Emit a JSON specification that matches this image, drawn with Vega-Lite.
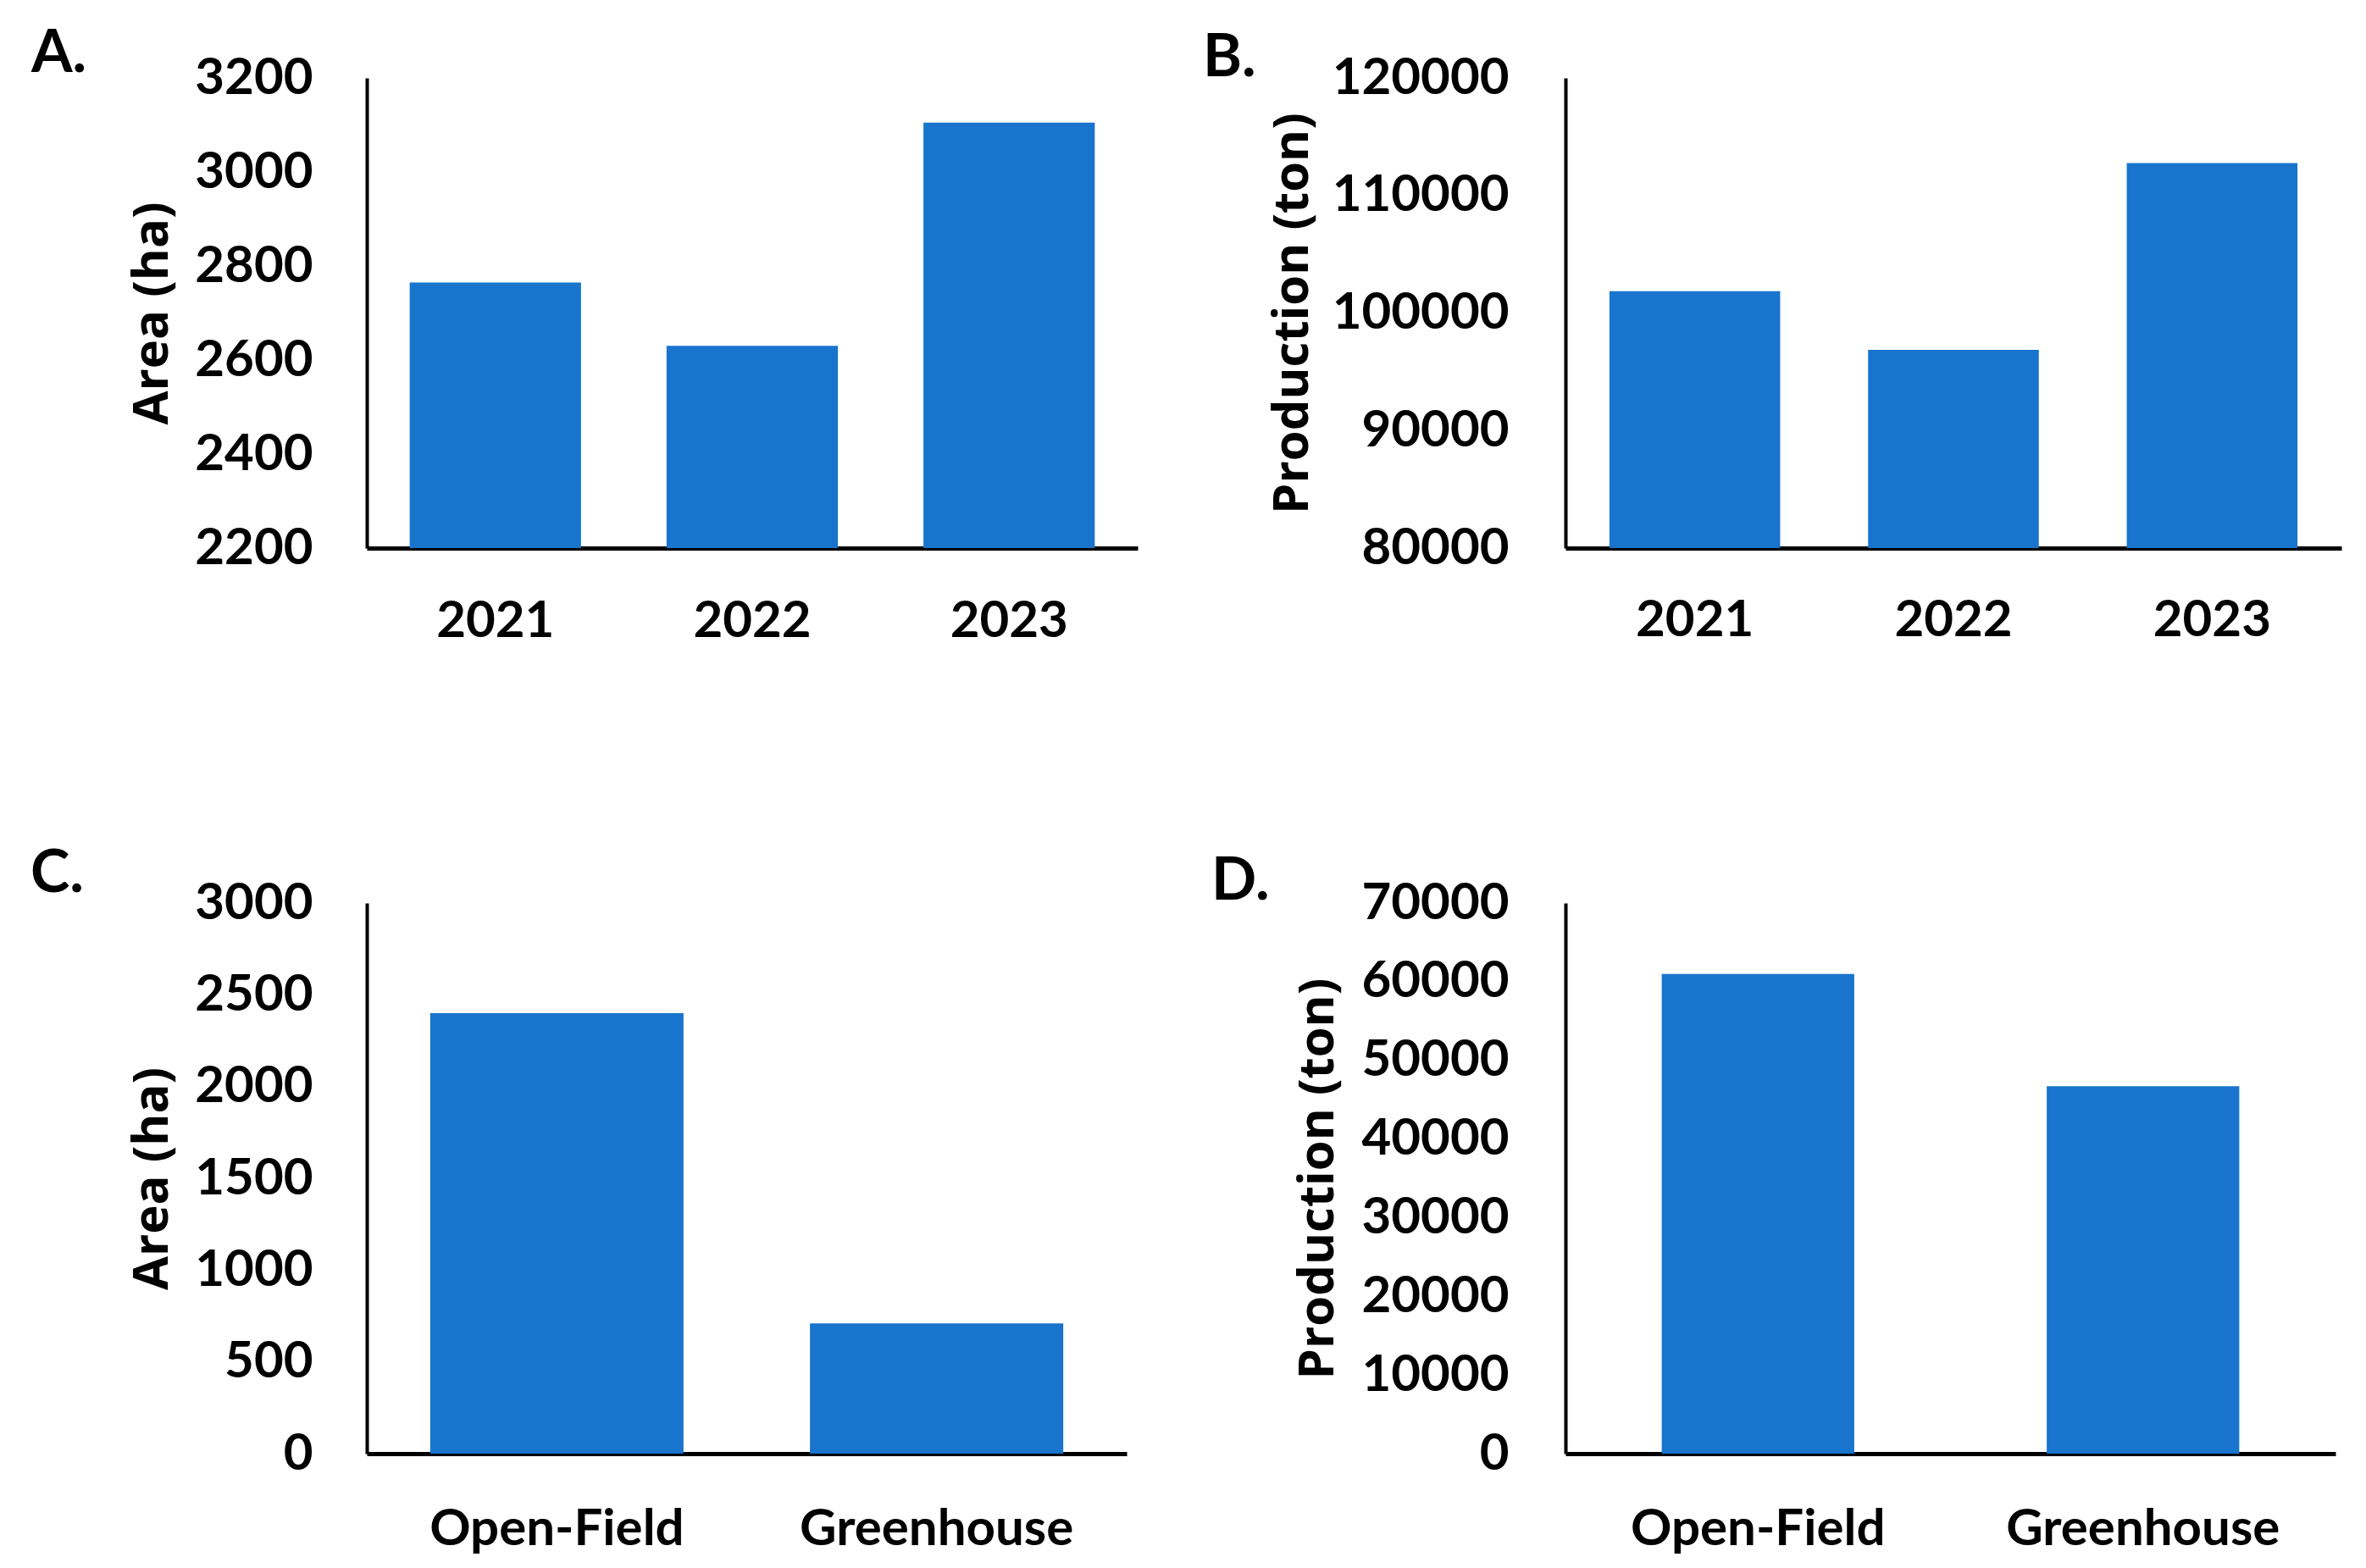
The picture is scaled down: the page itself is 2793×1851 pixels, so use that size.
{
  "$schema": "https://vega.github.io/schema/vega-lite/v6.json",
  "background": "white",
  "padding": {"left": 36, "top": 29, "right": 20, "bottom": 10},
  "columns": 2,
  "spacing": {"row": 419, "column": 505},
  "bounds": "flush",
  "config": {
    "view": {"stroke": null},
    "axis": {
      "labelFont": "Lato", "labelFontWeight": "bold", "labelFontSize": 60, "labelColor": "black", "labelLimit": 600,
      "titleFont": "Open Sans", "titleFontWeight": "bold", "titleFontSize": 58, "titleColor": "black",
      "domainColor": "black", "ticks": false, "tickSize": 0, "grid": false
    },
    "title": {"font": "Lato", "fontSize": 70, "fontWeight": "bold", "color": "black", "anchor": "start", "frame": "group", "baseline": "alphabetic", "offset": 0}
  },
  "concat": [
    {
      "width": 910, "height": 555,
      "title": {"text": "A.", "dx": -396, "dy": 42},
      "data": {"values": [
        {"year": "2021", "area": 2765},
        {"year": "2022", "area": 2630},
        {"year": "2023", "area": 3105}
      ]},
      "mark": {"type": "bar", "color": "#1874CD"},
      "encoding": {
        "x": {"field": "year", "type": "nominal", "sort": null,
              "scale": {"paddingInner": 0.333, "paddingOuter": 0.167},
              "axis": {"title": null, "labelAngle": 0, "labelBaseline": "middle", "labelPadding": 86, "domainWidth": 5}},
        "y": {"field": "area", "type": "quantitative",
              "scale": {"domain": [2200, 3200], "zero": false, "nice": false},
              "axis": {"title": "Area (ha)", "values": [2200, 2400, 2600, 2800, 3000, 3200], "format": "d",
                       "labelPadding": 64, "domainWidth": 4, "titleX": -253, "titleBaseline": "middle"}},
        "y2": {"datum": 2200}
      }
    },
    {
      "width": 916, "height": 555,
      "title": {"text": "B.", "dx": -428, "dy": 47},
      "data": {"values": [
        {"year": "2021", "production": 101850},
        {"year": "2022", "production": 96870},
        {"year": "2023", "production": 112750}
      ]},
      "mark": {"type": "bar", "color": "#1874CD"},
      "encoding": {
        "x": {"field": "year", "type": "nominal", "sort": null,
              "scale": {"paddingInner": 0.34, "paddingOuter": 0.17},
              "axis": {"title": null, "labelAngle": 0, "labelBaseline": "middle", "labelPadding": 85, "domainWidth": 5}},
        "y": {"field": "production", "type": "quantitative",
              "scale": {"domain": [80000, 120000], "zero": false, "nice": false},
              "axis": {"title": "Production (ton)", "values": [80000, 90000, 100000, 110000, 120000], "format": "d",
                       "labelPadding": 67, "domainWidth": 4, "titleX": -322, "titleBaseline": "middle"}},
        "y2": {"datum": 80000}
      }
    },
    {
      "width": 897, "height": 650,
      "title": {"text": "C.", "dx": -397, "dy": 36},
      "data": {"values": [
        {"system": "Open-Field", "area": 2400},
        {"system": "Greenhouse", "area": 710}
      ]},
      "mark": {"type": "bar", "color": "#1874CD"},
      "encoding": {
        "x": {"field": "system", "type": "nominal", "sort": null,
              "scale": {"paddingInner": 0.333, "paddingOuter": 0.167},
              "axis": {"title": null, "labelAngle": 0, "labelBaseline": "middle", "labelPadding": 89, "domainWidth": 5}},
        "y": {"field": "area", "type": "quantitative",
              "scale": {"domain": [0, 3000], "nice": false},
              "axis": {"title": "Area (ha)", "values": [0, 500, 1000, 1500, 2000, 2500, 3000], "format": "d",
                       "labelPadding": 64, "domainWidth": 4, "titleX": -253, "titleBaseline": "middle"}}
      }
    },
    {
      "width": 909, "height": 650,
      "title": {"text": "D.", "dx": -418, "dy": 45},
      "data": {"values": [
        {"system": "Open-Field", "production": 60980},
        {"system": "Greenhouse", "production": 46710}
      ]},
      "mark": {"type": "bar", "color": "#1874CD"},
      "encoding": {
        "x": {"field": "system", "type": "nominal", "sort": null,
              "scale": {"paddingInner": 0.5, "paddingOuter": 0.25},
              "axis": {"title": null, "labelAngle": 0, "labelBaseline": "middle", "labelPadding": 89, "domainWidth": 5}},
        "y": {"field": "production", "type": "quantitative",
              "scale": {"domain": [0, 70000], "nice": false},
              "axis": {"title": "Production (ton)", "values": [0, 10000, 20000, 30000, 40000, 50000, 60000, 70000], "format": "d",
                       "labelPadding": 67, "domainWidth": 4, "titleX": -292, "titleBaseline": "middle"}}
      }
    }
  ]
}
